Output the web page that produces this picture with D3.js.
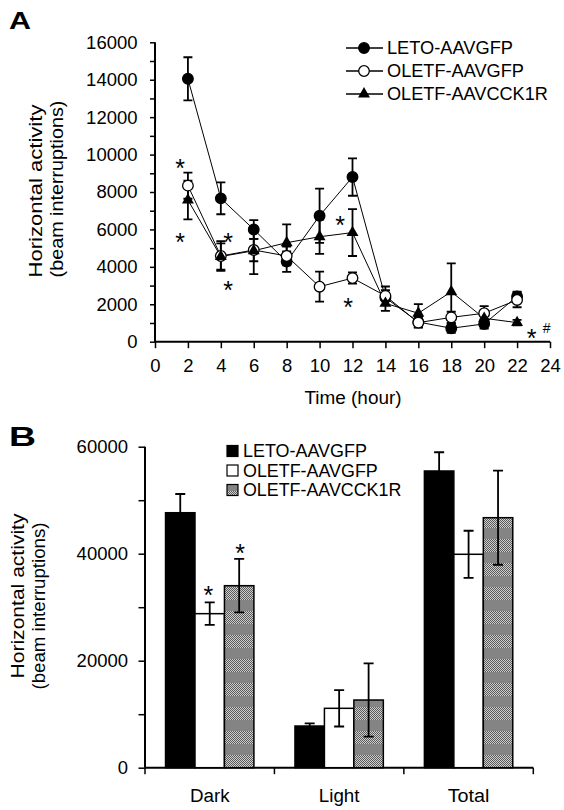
<!DOCTYPE html>
<html><head><meta charset="utf-8">
<script src="https://cdn.jsdelivr.net/npm/d3@7"></script>
<style>
body{margin:0;background:#fff;}
svg{display:block;font-family:"Liberation Sans",Arial,sans-serif;}
</style></head>
<body>
<svg id="c" width="564" height="810"></svg>
<script>
// ---------- DATA ----------
const hours = [2,4,6,8,10,12,14,16,18,20,22];
const seriesNames = ["LETO-AAVGFP","OLETF-AAVGFP","OLETF-AAVCCK1R"];
const letoMean  = [14050,7660,6000,4280,6730,8800,2350,1050,720,950,2420];
const letoSE    = [1150,850,500,550,1450,1000,400,300,250,250,250];
const oletfMean = [8340,4580,4900,4580,2940,3400,2450,1020,1300,1520,2230];
const oletfSE   = [700,800,600,500,800,300,500,250,300,380,390];
const cckMean   = [7570,4550,4860,5290,5610,5830,2050,1520,2670,1250,1020];
const cckSE     = [1030,700,1250,980,920,1250,400,490,1520,400,150];
const yTicksA = [0,2000,4000,6000,8000,10000,12000,14000,16000];
const xTicksA = [0,2,4,6,8,10,12,14,16,18,20,22,24];

const periods = ["Dark","Light","Total"];
const barLeto   = [47660,7790,55460];
const barLetoSE = [3500,500,3500];
const barOletf  = [28790,11100,39890];
const barOletfSE= [2100,3400,4400];
const barCck    = [34020,12650,46730];
const barCckSE  = [5000,6850,8800];
const yTicksB = [0,20000,40000,60000];

const svg = d3.select("#c");
const FONT = 18.5;

// Arial-like advance widths: used to force the reference text widths
const AW = {"A":.667,"B":.667,"C":.722,"D":.722,"E":.667,"F":.611,"G":.778,"H":.722,"K":.667,"L":.556,"O":.778,"P":.667,"R":.722,"T":.611,"V":.667,
 "a":.556,"b":.556,"c":.5,"e":.556,"g":.556,"h":.556,"i":.222,"k":.5,"l":.222,"m":.833,"n":.556,"o":.556,"p":.556,"r":.333,"s":.5,"t":.278,"u":.556,"v":.5,"y":.5,
 " ":.278,"(":.333,")":.333,"-":.333};
function arialW(s,fs){let w=0;for(const ch of s){w+= /[0-9]/.test(ch)?.556:(AW[ch]||.556);}return w*fs;}
function stretch(t,target){
  const node=t.node(); const w=node.getComputedTextLength(); if(!(w>0)) return;
  const s=target/w; const x=+(t.attr("x")||0); const prev=t.attr("transform")||"";
  t.attr("transform",`${prev} translate(${x},0) scale(${s},1) translate(${-x},0)`);
}
function fit(sel,fs){ sel.each(function(){const t=d3.select(this);const s=t.text(); if(!s) return;
  t.attr("font-size",fs); stretch(t,arialW(s,fs));}); }

// pattern for gray bars
const defs = svg.append("defs");
const chk = defs.append("pattern").attr("id","chk").attr("width",2).attr("height",2).attr("patternUnits","userSpaceOnUse");
chk.append("rect").attr("width",2).attr("height",2).attr("fill","#cfcfcf");
chk.append("rect").attr("width",1).attr("height",1).attr("fill","#5a5a5a");
chk.append("rect").attr("x",1).attr("y",1).attr("width",1).attr("height",1).attr("fill","#5a5a5a");
const pat = defs.append("pattern").attr("id","stripe").attr("width",24).attr("height",24).attr("patternUnits","userSpaceOnUse").attr("y",0);
pat.append("rect").attr("width",24).attr("height",24).attr("fill","#848484");
pat.append("rect").attr("y",11).attr("width",24).attr("height",13).attr("fill","url(#chk)");

function star(g,x,y,fs){
  g.append("text").attr("x",x).attr("y",y+0.62*fs).attr("text-anchor","middle")
   .attr("font-size",fs).text("*");
}

// ================= PANEL A =================
const xA = d3.scaleLinear().domain([0,24]).range([155,550]);
const yA = d3.scaleLinear().domain([0,16000]).range([341.7,42.3]);
const gA = svg.append("g");

const tA = svg.append("text").attr("x",9).attr("y",29).attr("font-size",24).attr("font-weight","bold").text("A");
stretch(tA,22);

const axYA = d3.axisLeft(yA).tickValues(d3.range(0,16001,1000))
  .tickFormat(d=> yTicksA.includes(d) ? d : "").tickSize(5).tickPadding(12.5);
const gyA = gA.append("g").attr("transform","translate(155,0)").call(axYA);
const axXA = d3.axisBottom(xA).tickValues(xTicksA).tickSize(6.5).tickPadding(10.5);
const gxA = gA.append("g").attr("transform","translate(0,341.7)").call(axXA);
[gyA,gxA].forEach(g=>{
  g.select(".domain").attr("stroke-width",2).attr("d", g===gyA ? "M0,42.3V341.7" : "M155,0H550");
  g.selectAll(".tick line").attr("stroke-width",1.5);
  g.selectAll("text").attr("font-family","Liberation Sans, Arial").attr("fill","#000").call(fit,FONT);
});

const ta1 = gA.append("text").attr("transform","translate(42,191) rotate(-90)").attr("text-anchor","middle")
  .attr("font-size",19).text("Horizontal activity");
stretch(ta1,173);
const ta2 = gA.append("text").attr("transform","translate(63,189) rotate(-90)").attr("text-anchor","middle")
  .attr("font-size",19).text("(beam interruptions)");
stretch(ta2,177);
gA.append("text").attr("x",353).attr("y",404).attr("text-anchor","middle").text("Time (hour)").call(fit,18.8);

const series = [
  {name:seriesNames[0], m:letoMean, se:letoSE, shape:"circle", fill:"#000"},
  {name:seriesNames[1], m:oletfMean, se:oletfSE, shape:"circle", fill:"#fff"},
  {name:seriesNames[2], m:cckMean, se:cckSE, shape:"tri", fill:"#000"}
];
const line = d3.line().x((d,i)=>xA(hours[i])).y(d=>yA(d));
const capW = 4.5;
function drawMarker(g,shape,fill,x,y){
  if(shape==="circle"){
    g.append("circle").attr("cx",x).attr("cy",y).attr("r",5.3).attr("fill",fill).attr("stroke","#000").attr("stroke-width",1.3);
  } else {
    g.append("path").attr("d",d3.symbol(d3.symbolTriangle,62)()).attr("transform",`translate(${x},${y})`).attr("fill",fill);
  }
}
series.forEach(s=>{
  const g = gA.append("g");
  s.m.forEach((v,i)=>{
    const x = xA(hours[i]), y1 = yA(v+s.se[i]), y2 = yA(v-s.se[i]);
    g.append("path").attr("d",`M${x},${y1}V${y2}M${x-capW},${y1}H${x+capW}M${x-capW},${y2}H${x+capW}`)
      .attr("stroke","#000").attr("stroke-width",1.8).attr("fill","none");
  });
  g.append("path").attr("d",line(s.m)).attr("fill","none").attr("stroke","#000").attr("stroke-width",1);
});
series.forEach(s=>{
  const g = gA.append("g");
  s.m.forEach((v,i)=> drawMarker(g,s.shape,s.fill,xA(hours[i]),yA(v)));
});

// asterisks in A
[[180,161.7],[180,235],[228,235],[228,283],[340,218],[348,300],[531.7,331.7]].forEach(p=>star(gA,p[0],p[1],25));
gA.append("text").attr("x",546.7).attr("y",333).attr("text-anchor","middle").attr("font-size",14).text("#");

// legend A
series.forEach((s,i)=>{
  const y = 48 + i*23;
  gA.append("line").attr("x1",346).attr("x2",383).attr("y1",y).attr("y2",y).attr("stroke","#000").attr("stroke-width",1.3);
  drawMarker(gA,s.shape,s.fill,364,y);
  gA.append("text").attr("x",387).attr("y",y+6.5).text(s.name).call(fit,18);
});

// ================= PANEL B =================
const gB = svg.append("g");
const tB = svg.append("text").attr("x",9).attr("y",446).attr("font-size",28).attr("font-weight","bold").text("B");
stretch(tB,27);

const xB = d3.scaleBand().domain(periods).range([145,533.3]).padding(0);
const xInner = d3.scaleBand().domain([0,1,2]).range([0,xB.bandwidth()]).paddingInner(0).paddingOuter(0.697);
const yB = d3.scaleLinear().domain([0,60000]).range([767.7,446.7]);

const axYB = d3.axisLeft(yB).tickValues(d3.range(0,60001,10000))
  .tickFormat(d=> yTicksB.includes(d) ? d : "").tickSize(6.5).tickPadding(10.5);
const gyB = gB.append("g").attr("transform","translate(145,0)").call(axYB);
const gxB = gB.append("g").attr("transform","translate(0,767.7)");
gxB.append("path").attr("d","M145,0H533.3").attr("stroke","#000").attr("stroke-width",2);
[145,...periods.map(p=>xB(p)+xB.bandwidth())].forEach(x=>{
  gxB.append("line").attr("x1",x).attr("x2",x).attr("y1",0).attr("y2",6.5).attr("stroke","#000").attr("stroke-width",1.5);
});
periods.forEach(p=>{
  gxB.append("text").attr("x",xB(p)+xB.bandwidth()/2).attr("y",34).attr("text-anchor","middle").text(p).call(fit,18.8);
});
gyB.select(".domain").attr("stroke-width",2).attr("d","M0,446.7V767.7");
gyB.selectAll(".tick line").attr("stroke-width",1.5);
gyB.selectAll("text").attr("font-family","Liberation Sans, Arial").attr("fill","#000").call(fit,FONT);

const tb1 = gB.append("text").attr("transform","translate(24,596) rotate(-90)").attr("text-anchor","middle")
  .attr("font-size",19).text("Horizontal activity");
stretch(tb1,165);
const tb2 = gB.append("text").attr("transform","translate(45,606) rotate(-90)").attr("text-anchor","middle")
  .attr("font-size",19).text("(beam interruptions)");
stretch(tb2,167);

const barSeries = [
  {m:barLeto, se:barLetoSE, fill:"#000"},
  {m:barOletf, se:barOletfSE, fill:"#fff"},
  {m:barCck, se:barCckSE, fill:"url(#stripe)"}
];
barSeries.forEach((s,k)=>{
  periods.forEach((p,i)=>{
    const x = xB(p)+xInner(k), w = xInner.bandwidth();
    gB.append("rect").attr("x",x).attr("y",yB(s.m[i])).attr("width",w).attr("height",yB(0)-yB(s.m[i]))
      .attr("fill",s.fill).attr("stroke","#000").attr("stroke-width",1.5);
  });
});
barSeries.forEach((s,k)=>{
  periods.forEach((p,i)=>{
    const cx = xB(p)+xInner(k)+xInner.bandwidth()/2;
    const y1 = yB(s.m[i]+s.se[i]), y2 = yB(s.m[i]-s.se[i]), c=5;
    gB.append("path").attr("d",`M${cx},${y1}V${y2}M${cx-c},${y1}H${cx+c}M${cx-c},${y2}H${cx+c}`)
      .attr("stroke","#000").attr("stroke-width",1.8).attr("fill","none");
  });
});
star(gB,208.3,588,25);
star(gB,240,546.7,25);

// legend B
const legFills = ["#000","#fff","url(#stripe)"];
seriesNames.forEach((n,i)=>{
  const y = 451 + i*19.5;
  gB.append("rect").attr("x",227).attr("y",y-5.5).attr("width",11).attr("height",11)
    .attr("fill",legFills[i]).attr("stroke","#000").attr("stroke-width",1.2);
  gB.append("text").attr("x",243).attr("y",y+6.5).text(n).call(fit,17.7);
});
</script>
</body></html>
